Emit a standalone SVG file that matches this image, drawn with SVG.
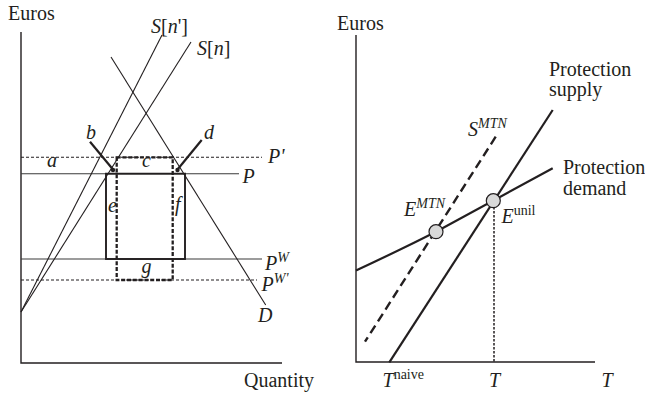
<svg xmlns="http://www.w3.org/2000/svg" width="645" height="393" viewBox="0 0 645 393">
<style>
.ax{stroke:#231f20;stroke-width:1.4;fill:none}
.ln{stroke:#231f20;stroke-width:1.1;fill:none}
.gl{stroke:#3a3a3a;stroke-width:1.1;fill:none}
.dl{stroke:#231f20;stroke-width:1.1;fill:none;stroke-dasharray:3 2}
.box{stroke:#231f20;stroke-width:1.9;fill:none}
.dbox{stroke:#231f20;stroke-width:2.3;fill:none;stroke-dasharray:4 1.8}
.bk{stroke:#231f20;stroke-width:2.2;fill:none}
.thk{stroke:#231f20;stroke-width:2.2;fill:none}
.tdash{stroke:#231f20;stroke-width:2.4;fill:none;stroke-dasharray:9 5}
.vdot{stroke:#231f20;stroke-width:1.5;fill:none;stroke-dasharray:2.5 1.5}
.pt{fill:#d9d9d9;stroke:#231f20;stroke-width:1.2}
.t{font-family:"Liberation Serif",serif;font-size:20px;fill:#231f20}
.i{font-style:italic}
.s{font-size:14px}
</style>
<g id="left-panel">
  <g id="left-axes">
    <path class="ax" d="M21,32 V363 H282"/>
    <text class="t" x="8" y="20">Euros</text>
    <text class="t" x="244" y="387">Quantity</text>
  </g>
  <g id="connectors">
    <line class="dl" x1="21" y1="157.3" x2="262" y2="157.3"/>
    <line class="gl" x1="21" y1="173.7" x2="239" y2="173.7"/>
    <line class="gl" x1="21" y1="259" x2="262" y2="259"/>
    <line class="dl" x1="21" y1="280" x2="257" y2="280"/>
    <line class="ln" x1="111" y1="57" x2="265.7" y2="305"/>
    <line class="ln" x1="21" y1="312" x2="162" y2="35"/>
    <line class="ln" x1="21" y1="312" x2="191" y2="42"/>
    <line class="bk" x1="90" y1="141.7" x2="113" y2="169.5"/>
    <line class="bk" x1="201.7" y1="140" x2="177.5" y2="169.5"/>
    <circle cx="113" cy="170" r="2.2" fill="#231f20"/>
    <circle cx="177.5" cy="170" r="2.2" fill="#231f20"/>
  </g>
  <g id="solid-box"><rect class="box" x="106" y="173.7" width="79" height="85.3"/></g>
  <g id="dashed-box"><rect class="dbox" x="116.7" y="157.3" width="56" height="122.7"/></g>
  <g id="left-labels">
    <text class="t" x="151" y="33"><tspan class="i">S</tspan>[<tspan class="i">n</tspan>']</text>
    <text class="t" x="197" y="55"><tspan class="i">S</tspan>[<tspan class="i">n</tspan>]</text>
    <text class="t i" x="86" y="139">b</text>
    <text class="t i" x="204" y="139">d</text>
    <text class="t i" x="47" y="167">a</text>
    <text class="t i" x="142" y="167">c</text>
    <text class="t i" x="108" y="211.5">e</text>
    <text class="t i" x="175" y="211">f</text>
    <text class="t i" x="141.5" y="273">g</text>
    <text class="t i" x="268" y="163">P'</text>
    <text class="t i" x="242.5" y="183">P</text>
    <text class="t i" x="265" y="270">P<tspan class="s" dy="-8">W</tspan></text>
    <text class="t i" x="261.5" y="291">P<tspan class="s" dy="-8">W'</tspan></text>
    <text class="t i" x="258" y="321.5">D</text>
  </g>
</g>
<g id="right-panel">
  <g id="right-axes">
    <path class="ax" d="M356,35 V362 H595"/>
    <text class="t" x="337" y="30">Euros</text>
  </g>
  <g id="right-connectors">
    <line class="thk" x1="552.7" y1="110" x2="389.3" y2="362.3"/>
    <line class="tdash" x1="495.7" y1="136.7" x2="365" y2="341.7"/>
    <path class="thk" d="M356,270.5 Q400,250 436,231.7 L552.7,168.3"/>
    <line class="vdot" x1="494" y1="207" x2="494" y2="362"/>
  </g>
  <g id="E-MTN"><circle class="pt" cx="436" cy="231.7" r="7"/>
    <text class="t i" x="404" y="216">E<tspan class="s" dy="-8">MTN</tspan></text></g>
  <g id="E-unil"><circle class="pt" cx="493.3" cy="200.7" r="7"/>
    <text class="t i" x="501.5" y="222.7">E<tspan class="s" dy="-8" font-style="normal">unil</tspan></text></g>
  <g id="right-labels">
    <text class="t" x="549" y="76">Protection</text>
    <text class="t" x="549" y="96">supply</text>
    <text class="t" x="563" y="174">Protection</text>
    <text class="t" x="563" y="195">demand</text>
    <text class="t i" x="468" y="135.5">S<tspan class="s" dy="-8">MTN</tspan></text>
    <text class="t i" x="382.5" y="386.5">T<tspan class="s" dy="-7.5" font-style="normal">naive</tspan></text>
    <text class="t i" x="489" y="386.5">T</text>
    <text class="t i" x="601.5" y="386.5">T</text>
  </g>
</g>
</svg>
